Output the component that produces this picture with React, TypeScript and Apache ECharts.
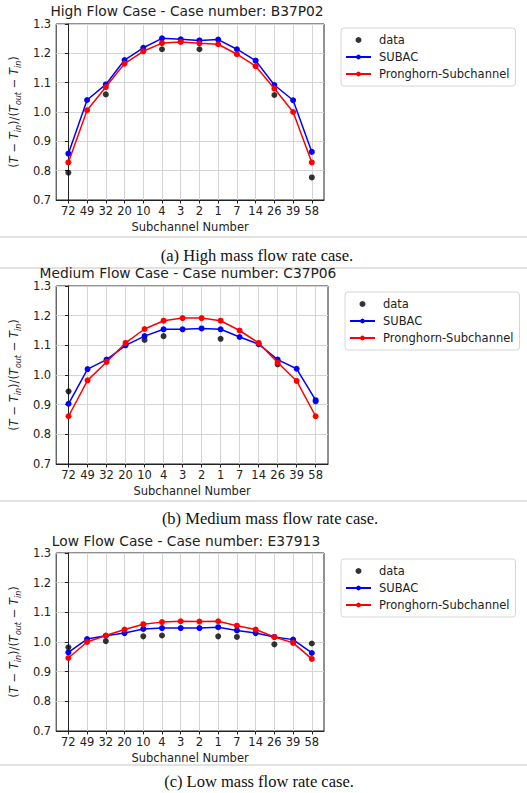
import React, { useEffect, useRef } from "react";
import * as echarts from "echarts";

// subchannel order along the traverse
const subchannels = ["72", "49", "32", "20", "10", "4", "3", "2", "1", "7", "14", "26", "39", "58"];
const yTicks = [0.7, 0.8, 0.9, 1.0, 1.1, 1.2, 1.3];

// high flow, B37P02
const highData = [0.793, null, 1.06, null, null, 1.214, null, 1.214, null, null, null, 1.058, null, 0.777];
const highSubac = [0.858, 1.041, 1.094, 1.177, 1.219, 1.251, 1.248, 1.244, 1.247, 1.214, 1.175, 1.092, 1.04, 0.864];
const highPron = [0.828, 1.006, 1.085, 1.165, 1.207, 1.235, 1.239, 1.234, 1.231, 1.197, 1.156, 1.08, 1.0, 0.828];

// medium flow, C37P06
const medData = [0.945, null, null, null, 1.118, 1.131, null, null, 1.122, null, null, 1.036, null, 0.911];
const medSubac = [0.903, 1.02, 1.052, 1.1, 1.131, 1.154, 1.154, 1.157, 1.154, 1.128, 1.104, 1.052, 1.021, 0.915];
const medPron = [0.861, 0.982, 1.044, 1.108, 1.155, 1.183, 1.192, 1.192, 1.183, 1.15, 1.108, 1.042, 0.98, 0.861];

// low flow, E37913
const lowData = [0.982, null, 1.003, null, 1.019, 1.022, null, null, 1.019, 1.017, null, 0.992, null, 0.995];
const lowSubac = [0.965, 1.01, 1.021, 1.03, 1.044, 1.047, 1.047, 1.047, 1.05, 1.039, 1.03, 1.017, 1.008, 0.963];
const lowPron = [0.946, 1.0, 1.022, 1.042, 1.06, 1.067, 1.07, 1.069, 1.07, 1.055, 1.042, 1.017, 0.997, 0.943];

const titles = [
  "High Flow Case - Case number: B37P02",
  "Medium Flow Case - Case number: C37P06",
  "Low Flow Case - Case number: E37913",
];
const captions = [
  "(a) High mass flow rate case.",
  "(b) Medium mass flow rate case.",
  "(c) Low mass flow rate case.",
];
const seriesNames = ["data", "SUBAC", "Pronghorn-Subchannel"];

const FONT = "DejaVu Sans";
const INK = "#222";

const panels = [
  { grid: { left: 49, top: 24, width: 275, height: 176 }, titleX: 187, titleY: 4, legend: [341, 28], capX: 257, capY: 255, sets: [highData, highSubac, highPron] },
  { grid: { left: 52, top: 286, width: 276, height: 178 }, titleX: 188, titleY: 266, legend: [345, 292], capX: 270, capY: 518, sets: [medData, medSubac, medPron] },
  { grid: { left: 49, top: 553, width: 275, height: 178 }, titleX: 186, titleY: 534, legend: [341, 559], capX: 259, capY: 781, sets: [lowData, lowSubac, lowPron] },
];

const idx = subchannels.map((_, i) => i);
const toPoints = (vals: (number | null)[]) =>
  vals.map((v, i) => (v === null ? null : [i, v])).filter((p) => p !== null);

const yName =
  "{r|(}{i|T}{r| − }{i|T}{s|in}{r|)/(}{i|T}{s|out}{r| − }{i|T}{s|in}{r|)}";

const App: React.FC = () => {
  const chartRef = useRef<HTMLDivElement>(null);

  useEffect(() => {
    if (!chartRef.current) return;
    const chart = echarts.init(chartRef.current, null, { renderer: "svg" });

    const option: echarts.EChartsOption = {
      animation: false,
      textStyle: { fontFamily: FONT },
      title: panels.map((p, k) => ({
        text: titles[k],
        left: p.titleX,
        top: p.titleY,
        textAlign: "center",
        padding: 0,
        textStyle: { fontFamily: FONT, fontSize: 13.8, lineHeight: 14, fontWeight: "normal", color: INK },
      })),
      legend: panels.map((p) => ({
        data: seriesNames,
        orient: "vertical",
        left: p.legend[0],
        top: p.legend[1],
        padding: [5, 6, 5, 4],
        itemWidth: 25,
        itemHeight: 6,
        itemGap: 3,
        backgroundColor: "#fff",
        borderColor: "#d6d6d6",
        borderWidth: 1,
        borderRadius: 3,
        selectedMode: false,
        textStyle: { fontFamily: FONT, fontSize: 11.5, lineHeight: 14, color: INK, padding: [0, 0, 0, 3] },
      })),
      grid: panels.map((p) => ({
        ...p.grid,
        show: true,
        borderColor: INK,
        borderWidth: 1,
        backgroundColor: "transparent",
      })),
      xAxis: panels.map((_, k) => ({
        type: "value",
        gridIndex: k,
        min: -0.65,
        max: 13.65,
        name: "Subchannel Number",
        nameLocation: "middle",
        nameGap: 21,
        nameTextStyle: { fontFamily: FONT, fontSize: 11.5, color: INK },
        axisLine: { show: true, lineStyle: { color: INK, width: 1 } },
        axisTick: { show: true, length: 3.5, customValues: idx, lineStyle: { color: INK } },
        axisLabel: {
          customValues: idx,
          formatter: (v: number) => subchannels[Math.round(v)] ?? "",
          margin: 5,
          fontFamily: FONT,
          fontSize: 11.5,
          color: INK,
        },
        splitLine: { show: true, lineStyle: { color: "#d4d4d4", width: 1 } },
      })),
      yAxis: panels.map((_, k) => ({
        type: "value",
        gridIndex: k,
        min: 0.7,
        max: 1.3,
        interval: 0.1,
        name: yName,
        nameLocation: "middle",
        nameGap: 30,
        nameTextStyle: {
          fontFamily: FONT,
          fontSize: 11.5,
          color: INK,
          rich: {
            r: { fontFamily: FONT, fontSize: 11.5, color: INK },
            i: { fontFamily: FONT, fontSize: 11.5, fontStyle: "italic", color: INK },
            s: { fontFamily: FONT, fontSize: 8, fontStyle: "italic", color: INK, verticalAlign: "bottom", lineHeight: 16 },
          },
        },
        axisLine: { show: true, lineStyle: { color: INK, width: 1 } },
        axisTick: { show: true, length: 3.5, lineStyle: { color: INK } },
        axisLabel: {
          customValues: yTicks,
          formatter: (v: number) => v.toFixed(1),
          margin: 5,
          fontFamily: FONT,
          fontSize: 11.5,
          lineHeight: 12,
          color: INK,
        },
        splitLine: { show: true, lineStyle: { color: "#d4d4d4", width: 1 } },
      })),
      series: panels.flatMap((p, k) => [
        {
          name: "data",
          type: "scatter",
          xAxisIndex: k,
          yAxisIndex: k,
          symbol: "circle",
          symbolSize: 6,
          itemStyle: { color: "#000" },
          data: toPoints(p.sets[0]),
          z: 2,
        },
        {
          name: "SUBAC",
          type: "line",
          xAxisIndex: k,
          yAxisIndex: k,
          symbol: "circle",
          symbolSize: 6,
          itemStyle: { color: "#0000ff" },
          lineStyle: { color: "#0000ff", width: 1.5 },
          data: toPoints(p.sets[1]),
          z: 3,
        },
        {
          name: "Pronghorn-Subchannel",
          type: "line",
          xAxisIndex: k,
          yAxisIndex: k,
          symbol: "circle",
          symbolSize: 6,
          itemStyle: { color: "#ff0000" },
          lineStyle: { color: "#ff0000", width: 1.5 },
          data: toPoints(p.sets[2]),
          z: 4,
        },
      ]),
      graphic: [
        ...[237, 268, 501, 765].map((y) => ({
          type: "line",
          shape: { x1: 0, y1: y, x2: 527, y2: y },
          style: { stroke: "#c4c4c4", lineWidth: 1 },
          silent: true,
        })),
        ...panels.map((p, k) => ({
          type: "text",
          x: p.capX,
          y: p.capY,
          style: {
            text: captions[k],
            fontFamily: "Liberation Serif",
            fontSize: 16.5,
            fill: "#111",
            align: "center",
            verticalAlign: "middle",
          },
          silent: true,
        })),
      ],
    };

    chart.setOption(option);
    return () => {
      chart.dispose();
    };
  }, []);

  return (
    <div
      ref={chartRef}
      style={{ position: "absolute", left: 0, top: 0, width: "527px", height: "793px", background: "#fff" }}
    />
  );
};

export default App;
